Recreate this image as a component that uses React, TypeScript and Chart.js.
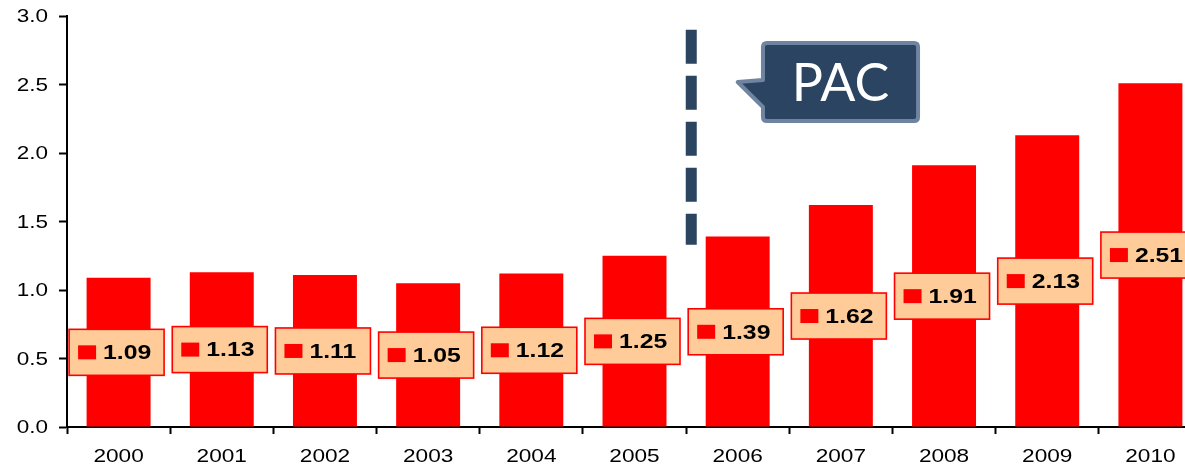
import React, { useEffect, useRef } from "react";
import { Chart, registerables } from "chart.js";

Chart.register(...registerables);

const years = ["2000", "2001", "2002", "2003", "2004", "2005", "2006", "2007", "2008", "2009", "2010"];
const values = [1.09, 1.13, 1.11, 1.05, 1.12, 1.25, 1.39, 1.62, 1.91, 2.13, 2.51];
const yTicks = [0, 0.5, 1.0, 1.5, 2.0, 2.5, 3.0];

// annotation (in data units: category index / value)
const pacLabel = "PAC";
const pacLineIndex = 5.55;
const pacLineFrom = 1.33;
const pacLineTo = 2.9;
const pacBoxX = [6.245, 7.748];
const pacBoxY = [2.234, 2.803];
const pacTip = [6.0, 2.518];
const pacTailY = [2.336, 2.533];

const RED = "#ff0000";
const NAVY = "#2a4462";
const TICK_FONT = "'Liberation Sans', Arial, sans-serif";

const tickLabelPlugin = {
  id: "stretchedTicks",
  afterDraw(chart: any) {
    const ctx = chart.ctx;
    const xs = chart.scales.x;
    const ys = chart.scales.y;
    ctx.save();
    ctx.fillStyle = "#000";
    ctx.textBaseline = "middle";
    // y labels
    ctx.font = `18px ${TICK_FONT}`;
    ctx.textAlign = "right";
    ys.ticks.forEach((t: any, i: number) => {
      const py = ys.getPixelForTick(i);
      ctx.save();
      ctx.translate(ys.right - 19, py + 1.5);
      ctx.scale(1.25, 1);
      ctx.fillText(Number(t.value).toFixed(1), 0, 0);
      ctx.restore();
    });
    // x labels
    ctx.font = `19px ${TICK_FONT}`;
    ctx.textAlign = "center";
    xs.ticks.forEach((t: any, i: number) => {
      const px = xs.getPixelForTick(i);
      ctx.save();
      ctx.translate(px, xs.top + 30);
      ctx.scale(1.19, 1);
      ctx.fillText(years[i], 0, 0);
      ctx.restore();
    });
    ctx.restore();
  },
};

const labelPlugin = {
  id: "valueBoxes",
  afterDatasetsDraw(chart: any) {
    const ctx = chart.ctx;
    const meta = chart.getDatasetMeta(0);
    const yScale = chart.scales.y;
    meta.data.forEach((bar: any, i: number) => {
      const v = values[i];
      const cx = bar.x - 2;
      const cy = yScale.getPixelForValue(v / 2);
      const w = 95;
      const h = 46;
      const left = cx - w / 2;
      const top = cy - h / 2;
      ctx.save();
      ctx.fillStyle = "#ffcc99";
      ctx.fillRect(left, top, w, h);
      ctx.strokeStyle = RED;
      ctx.lineWidth = 1.6;
      ctx.strokeRect(left, top, w, h);
      ctx.fillStyle = RED;
      ctx.fillRect(left + 9, cy - 7, 18, 14);
      ctx.fillStyle = "#000";
      ctx.font = "bold 21px 'Liberation Sans', Arial, sans-serif";
      ctx.textBaseline = "middle";
      ctx.textAlign = "left";
      ctx.translate(left + 34, cy + 1);
      ctx.scale(1.18, 1);
      ctx.fillText(v.toFixed(2), 0, 0);
      ctx.restore();
    });
  },
};

const pacPlugin = {
  id: "pacAnnotation",
  afterDraw(chart: any) {
    const ctx = chart.ctx;
    const xs = chart.scales.x;
    const ys = chart.scales.y;
    ctx.save();
    // dashed line
    const lx = xs.getPixelForValue(pacLineIndex);
    ctx.strokeStyle = "#2b4460";
    ctx.lineWidth = 11;
    ctx.setLineDash([34, 12]);
    ctx.lineCap = "butt";
    ctx.beginPath();
    ctx.moveTo(lx, ys.getPixelForValue(pacLineTo));
    ctx.lineTo(lx, ys.getPixelForValue(pacLineFrom));
    ctx.stroke();
    ctx.setLineDash([]);

    // callout
    const L = xs.getPixelForValue(pacBoxX[0]);
    const R = xs.getPixelForValue(pacBoxX[1]);
    const T = ys.getPixelForValue(pacBoxY[1]);
    const B = ys.getPixelForValue(pacBoxY[0]);
    const tx = xs.getPixelForValue(pacTip[0]);
    const ty = ys.getPixelForValue(pacTip[1]);
    const a1 = ys.getPixelForValue(pacTailY[1]);
    const a2 = ys.getPixelForValue(pacTailY[0]);
    const r = 4;
    ctx.beginPath();
    ctx.moveTo(L + r, T);
    ctx.lineTo(R - r, T);
    ctx.quadraticCurveTo(R, T, R, T + r);
    ctx.lineTo(R, B - r);
    ctx.quadraticCurveTo(R, B, R - r, B);
    ctx.lineTo(L + r, B);
    ctx.quadraticCurveTo(L, B, L, B - r);
    ctx.lineTo(L, a2);
    ctx.lineTo(tx, ty);
    ctx.lineTo(L, a1);
    ctx.lineTo(L, T + r);
    ctx.quadraticCurveTo(L, T, L + r, T);
    ctx.closePath();
    ctx.fillStyle = NAVY;
    ctx.fill();
    ctx.lineJoin = "round";
    ctx.lineWidth = 4;
    ctx.strokeStyle = "#6f84a0";
    ctx.stroke();

    ctx.fillStyle = "#ffffff";
    ctx.font = "52px Lato, 'Open Sans', sans-serif";
    ctx.textAlign = "center";
    ctx.textBaseline = "middle";
    ctx.fillText(pacLabel, (L + R) / 2, (T + B) / 2 + 2);
    ctx.restore();
  },
};

export default function App() {
  const ref = useRef<HTMLCanvasElement>(null);
  useEffect(() => {
    document.body.style.margin = "0";
    document.body.style.overflow = "hidden";
    const chart = new Chart(ref.current as HTMLCanvasElement, {
      type: "bar",
      data: {
        labels: years,
        datasets: [
          {
            data: values,
            backgroundColor: RED,
            borderWidth: 0,
            barPercentage: 0.62,
            categoryPercentage: 1,
          },
        ],
      },
      options: {
        animation: false,
        responsive: false,
        maintainAspectRatio: false,
        layout: { padding: { top: 16, right: 0, left: 0, bottom: 0 } },
        plugins: { legend: { display: false }, tooltip: { enabled: false } },
        scales: {
          x: {
            afterFit: (s: any) => {
              s.height = 41;
            },
            grid: {
              drawOnChartArea: false,
              drawTicks: true,
              tickLength: 7,
              tickWidth: 2,
              tickColor: "#000",
              offset: true,
            },
            border: { display: true, color: "#000", width: 2 },
            ticks: { display: false },
          },
          y: {
            min: 0,
            max: 3,
            afterFit: (s: any) => {
              s.width = 67;
            },
            afterBuildTicks: (s: any) => {
              s.ticks = yTicks.map((v) => ({ value: v }));
            },
            grid: {
              drawOnChartArea: false,
              drawTicks: true,
              tickLength: 8,
              tickWidth: 2,
              tickColor: "#000",
            },
            border: { display: true, color: "#000", width: 2 },
            ticks: { display: false },
          },
        },
      },
      plugins: [labelPlugin, pacPlugin, tickLabelPlugin],
    });
    return () => chart.destroy();
  }, []);
  return (
    <div style={{ position: "absolute", left: 0, top: 0, width: 1202, height: 468 }}>
      <canvas ref={ref} width={1202} height={468} style={{ width: 1202, height: 468 }} />
    </div>
  );
}
